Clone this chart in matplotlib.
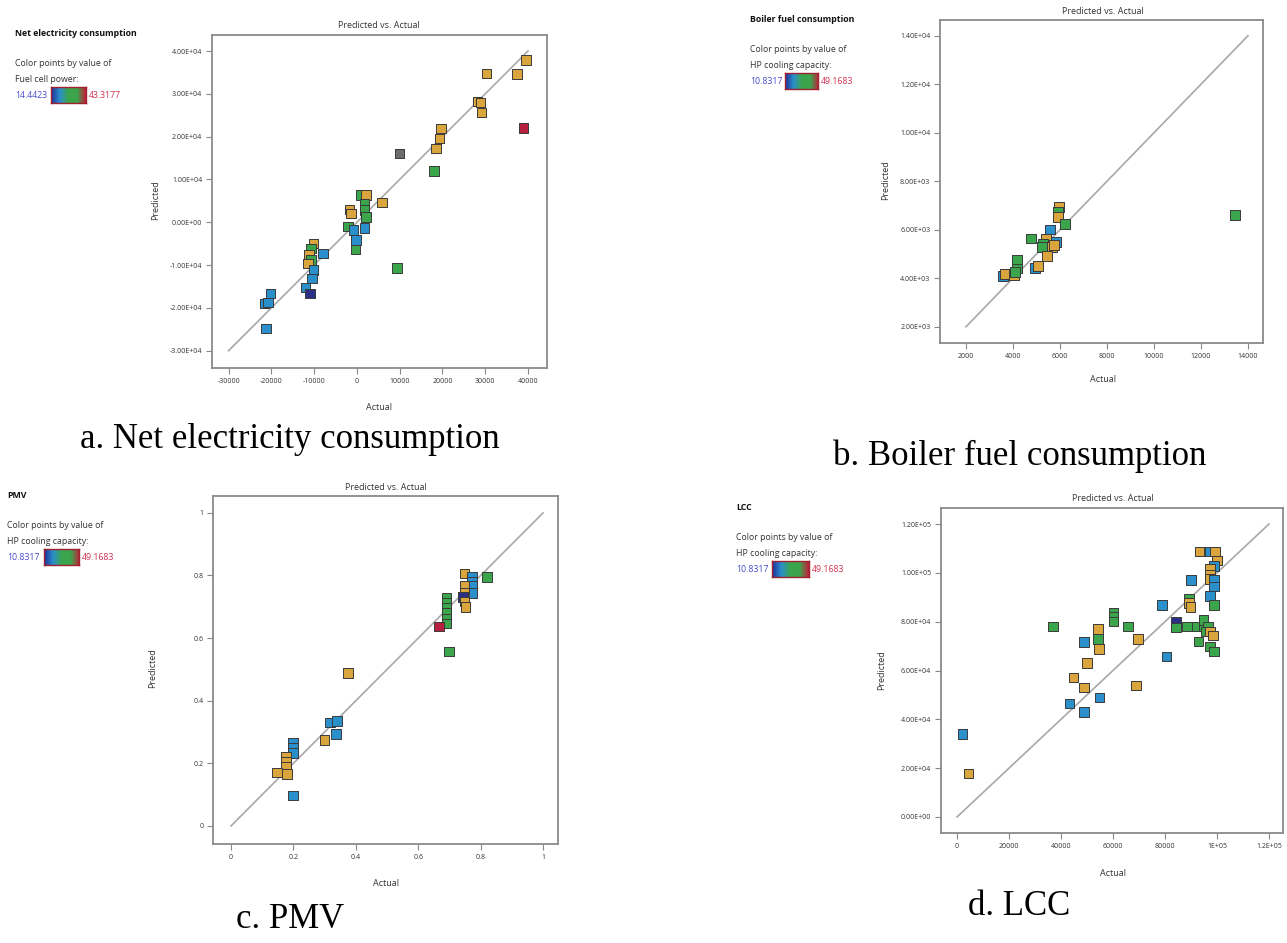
import matplotlib
matplotlib.use("Agg")
import matplotlib.pyplot as plt
import numpy as np
from matplotlib.colors import LinearSegmentedColormap

W, H = 1287, 943

# colour codes used by the points
palette = {'o': '#d9a53c', 'b': '#2b8fcb', 'g': '#3ba54c', 'n': '#2b2f86',
           'r': '#b8203f', 'k': '#6b6b6b'}

# a. Net electricity consumption
a_actual = [39580, 30310, 37410, 28150, 28890, 29140, 38910, 19700, 19280, 18450,
            9930, 18030, 5920, 910, 2160, -1770, -1350, 1740, 1740, 2160,
            -2020, -770, 1740, -180, -350, 9430, -10120, -10790, -11210, -7860,
            -10790, -11460, -10120, -10540, -12040, -11040, -20230, -21650, -20810, -21230]
a_pred = [37900, 34780, 34630, 28170, 27930, 25670, 22090, 21940, 19600, 17270,
          16100, 11970, 4650, 6360, 6360, 3020, 2080, 4420, 2860, 1300,
          -1030, -1810, -1270, -4150, -6330, -10610, -4930, -6090, -7650, -7260,
          -8820, -9600, -11150, -13100, -15200, -16600, -16600, -18940, -18780, -24780]
a_col = ['o', 'o', 'o', 'o', 'o', 'o', 'r', 'o', 'o', 'o',
         'k', 'g', 'o', 'g', 'o', 'o', 'o', 'g', 'g', 'g',
         'g', 'b', 'b', 'b', 'g', 'g', 'o', 'g', 'o', 'b',
         'g', 'o', 'b', 'b', 'b', 'n', 'b', 'b', 'b', 'b']
a_xticks = [-30000, -20000, -10000, 0, 10000, 20000, 30000, 40000]
a_xlabels = ['-30000', '-20000', '-10000', '0', '10000', '20000', '30000', '40000']
a_yticks = [-30000, -20000, -10000, 0, 10000, 20000, 30000, 40000]
a_ylabels = ['-3.00E+04', '-2.00E+04', '-1.00E+04', '0.00E+00',
             '1.00E+04', '2.00E+04', '3.00E+04', '4.00E+04']

# b. Boiler fuel consumption
b_actual = [13455, 5966, 5915, 5915, 6220, 5574, 4757, 5404, 5268, 5830,
            5659, 5234, 5438, 5744, 4179, 4179, 4944, 5064, 3566, 3668, 4042, 4093]
b_pred = [6606, 6950, 6744, 6537, 6235, 6015, 5644, 5644, 5437, 5506,
          5300, 5300, 4929, 5369, 4750, 4406, 4434, 4503, 4090, 4172, 4131, 4269]
b_col = ['g', 'o', 'g', 'o', 'g', 'b', 'g', 'o', 'g', 'b',
         'o', 'g', 'o', 'o', 'g', 'g', 'b', 'o', 'b', 'o', 'o', 'g']
b_xticks = [2000, 4000, 6000, 8000, 10000, 12000, 14000]
b_xlabels = ['2000', '4000', '6000', '8000', '10000', '12000', '14000']
b_yticks = [2000, 4000, 6000, 8000, 10000, 12000, 14000]
b_ylabels = ['2.00E+03', '4.00E+03', '6.00E+03', '8.00E+03', '1.00E+04', '1.20E+04', '1.40E+04']

# c. PMV
c_actual = [0.748, 0.773, 0.820, 0.773, 0.773, 0.773, 0.748, 0.748, 0.743, 0.691,
            0.691, 0.691, 0.691, 0.691, 0.691, 0.748, 0.751, 0.666, 0.699, 0.374,
            0.317, 0.340, 0.336, 0.299, 0.199, 0.199, 0.199, 0.176, 0.176, 0.176,
            0.148, 0.180, 0.199]
c_pred = [0.806, 0.797, 0.795, 0.781, 0.767, 0.744, 0.767, 0.744, 0.731, 0.728,
          0.712, 0.696, 0.680, 0.661, 0.646, 0.717, 0.699, 0.637, 0.557, 0.488,
          0.330, 0.336, 0.293, 0.274, 0.264, 0.248, 0.232, 0.221, 0.205, 0.189,
          0.171, 0.165, 0.097]
c_col = ['o', 'b', 'g', 'b', 'b', 'b', 'o', 'o', 'n', 'g',
         'g', 'g', 'g', 'g', 'g', 'o', 'o', 'r', 'g', 'o',
         'b', 'b', 'b', 'o', 'b', 'b', 'b', 'o', 'o', 'o',
         'o', 'o', 'b']
c_ticks = [0, 0.2, 0.4, 0.6, 0.8, 1]
c_labels = ['0', '0.2', '0.4', '0.6', '0.8', '1']

# d. LCC
d_actual = [2066, 4450, 37020, 43220, 44810, 48940, 48940, 48780, 49900, 54340,
            54340, 54660, 54820, 60220, 60220, 60220, 65790, 69600, 68800, 78970,
            80560, 84220, 84220, 90100, 89310, 89310, 89780, 93270, 97250, 99310,
            99950, 98840, 97250, 97250, 97250, 98840, 98840, 97250, 98840, 91690,
            94860, 94860, 96450, 95660, 97250, 98520, 92960, 97250, 98840, 88510]
d_pred = [33990, 17750, 78080, 46410, 57060, 71660, 53100, 43000, 63060, 77120,
          72890, 68930, 48870, 83540, 81900, 80130, 78080, 72890, 53780, 86810,
          65660, 79850, 77670, 97190, 89270, 87630, 86000, 108790, 108790, 108790,
          105100, 102920, 101560, 99240, 97460, 97190, 94460, 90640, 86810, 78080,
          78080, 80810, 78080, 76030, 76030, 74390, 71930, 69890, 67840, 78080]
d_col = ['b', 'o', 'g', 'b', 'o', 'b', 'o', 'b', 'o', 'o',
         'g', 'o', 'b', 'g', 'g', 'g', 'g', 'o', 'o', 'b',
         'b', 'n', 'g', 'b', 'g', 'o', 'o', 'o', 'b', 'o',
         'o', 'b', 'o', 'o', 'o', 'b', 'b', 'b', 'g', 'g',
         'g', 'g', 'g', 'g', 'o', 'o', 'g', 'g', 'g', 'g']
d_xticks = [0, 20000, 40000, 60000, 80000, 100000, 120000]
d_xlabels = ['0', '20000', '40000', '60000', '80000', '1E+05', '1.2E+05']
d_yticks = [0, 20000, 40000, 60000, 80000, 100000, 120000]
d_ylabels = ['0.00E+00', '2.00E+04', '4.00E+04', '6.00E+04', '8.00E+04', '1.00E+05', '1.20E+05']

SANS = ['Open Sans', 'DejaVu Sans']
SERIF = ['Liberation Serif', 'DejaVu Serif']
cmap = LinearSegmentedColormap.from_list('bgr', ['#1f2f9a', '#2a8fcb', '#3ba54c', '#3ba54c', '#c0203a'])

fig = plt.figure(figsize=(W / 100, H / 100), dpi=100)


def px_axes(x0, y0, x1, y1):
    return fig.add_axes([x0 / W, 1 - y1 / H, (x1 - x0) / W, (y1 - y0) / H])


def ftext(x, y, s, **kw):
    kw.setdefault('family', SANS)
    fig.text(x / W, 1 - y / H, s, **kw)


def panel(box, xs, ys, cols, xlim, ylim, xt, xl, yt, yl, line):
    ax = px_axes(*box)
    ax.plot(line, line, color='#a8a8a8', lw=1.2, zorder=1)
    ax.scatter(xs, ys, c=[palette[k] for k in cols], marker='s', s=48,
               edgecolors='#3a3a3a', linewidths=0.7, zorder=3)
    ax.set_xlim(*xlim)
    ax.set_ylim(*ylim)
    ax.set_xticks(xt)
    ax.set_xticklabels(xl)
    ax.set_yticks(yt)
    ax.set_yticklabels(yl)
    ax.tick_params(labelsize=5, length=4, width=0.8, color='#888888',
                   labelcolor='#333333', pad=3)
    for lab in ax.get_xticklabels() + ax.get_yticklabels():
        lab.set_family(SANS)
    for sp in ax.spines.values():
        sp.set_color('#8a8a8a')
        sp.set_linewidth(1.3)
    return ax


def legend(x, y, title, factor, lo, hi, bar):
    ftext(x, y, title, fontsize=6.3, weight='bold', va='center', color='#111111')
    ftext(x, y + 30, 'Color points by value of', fontsize=6.3, va='center', color='#333333')
    ftext(x, y + 46, factor, fontsize=6.3, va='center', color='#333333')
    ftext(x, y + 62, lo, fontsize=6.3, va='center', color='#4a4ad0')
    cax = px_axes(bar[0], y + 54, bar[1], y + 70)
    cax.imshow(np.linspace(0, 1, 100)[None, :], aspect='auto', cmap=cmap)
    cax.set_xticks([])
    cax.set_yticks([])
    for sp in cax.spines.values():
        sp.set_color('#a02030')
        sp.set_linewidth(1.0)
    ftext(bar[1] + 3, y + 62, hi, fontsize=6.3, va='center', color='#d03050')


def labels(cx, ty, xy, lx, ly):
    ftext(cx, ty, 'Predicted vs. Actual', fontsize=6.5, ha='center', va='center', color='#333333')
    ftext(cx, xy, 'Actual', fontsize=6.5, ha='center', va='center', color='#333333')
    ftext(lx, ly, 'Predicted', fontsize=6.5, ha='center', va='center', rotation=90, color='#333333')


# a
panel((212, 35, 547, 368), a_actual, a_pred, a_col, (-33880, 44440), (-34040, 43740),
      a_xticks, a_xlabels, a_yticks, a_ylabels, [-30000, 40000])
legend(15, 33, 'Net electricity consumption', 'Fuel cell power:', '14.4423', '43.3177', (51, 86))
labels(379, 26, 407, 156, 200)
ftext(80, 448, 'a. Net electricity consumption', family=SERIF, fontsize=25, va='baseline')

# b
panel((940, 20, 1263, 343), b_actual, b_pred, b_col, (894, 14640), (1330, 14650),
      b_xticks, b_xlabels, b_yticks, b_ylabels, [2000, 14000])
legend(750, 19, 'Boiler fuel consumption', 'HP cooling capacity:', '10.8317', '49.1683', (785, 818))
labels(1103, 11, 380, 886, 180)
ftext(833, 465, 'b. Boiler fuel consumption', family=SERIF, fontsize=25, va='baseline')

# c
panel((213, 496, 558, 844), c_actual, c_pred, c_col, (-0.058, 1.048), (-0.058, 1.054),
      c_ticks, c_labels, c_ticks, c_labels, [0, 1])
legend(7, 495, 'PMV', 'HP cooling capacity:', '10.8317', '49.1683', (44, 79))
labels(386, 487, 884, 153, 668)
ftext(236, 928, 'c. PMV', family=SERIF, fontsize=25, va='baseline')

# d
panel((941, 508, 1283, 833), d_actual, d_pred, d_col, (-6150, 125400), (-6560, 126560),
      d_xticks, d_xlabels, d_yticks, d_ylabels, [0, 120000])
legend(736, 507, 'LCC', 'HP cooling capacity:', '10.8317', '49.1683', (772, 809))
labels(1113, 499, 873, 882, 670)
ftext(968, 915, 'd. LCC', family=SERIF, fontsize=25, va='baseline')

fig.savefig('out.png', dpi=100, facecolor='white')
